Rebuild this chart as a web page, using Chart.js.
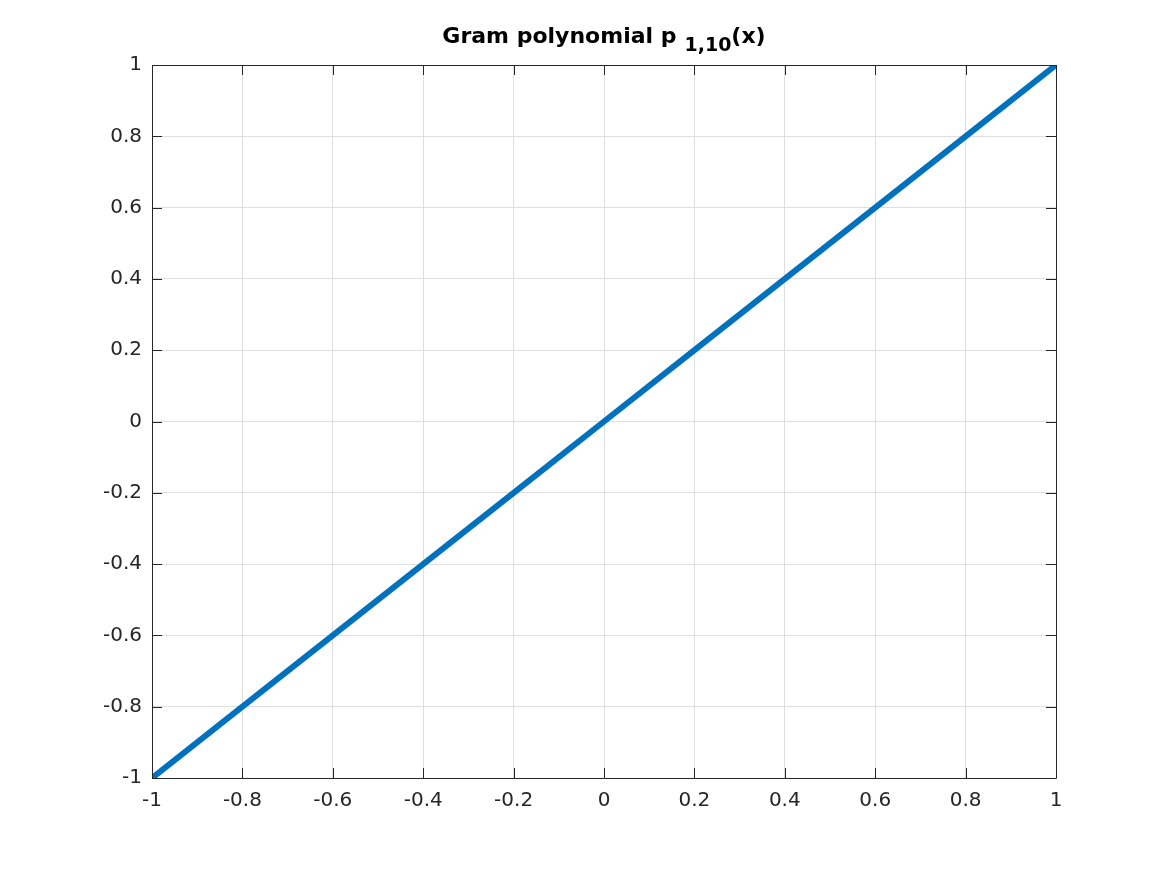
<!DOCTYPE html>
<html>
<head>
<meta charset="utf-8">
<script src="https://cdn.jsdelivr.net/npm/chart.js@4"></script>
<style>
  html, body { margin: 0; padding: 0; background: #fff; }
  #wrap { width: 1167px; height: 875px; }
</style>
</head>
<body>
<div id="wrap"><canvas id="c" width="1167" height="875"></canvas></div>
<script>
// Puntos de la curva (x en [-1, 1], 11 nodos) y su valor p_{1,10}(x)
const xValues = [-1, -0.8, -0.6, -0.4, -0.2, 0, 0.2, 0.4, 0.6, 0.8, 1];
const yValues = [-1, -0.8, -0.6, -0.4, -0.2, 0, 0.2, 0.4, 0.6, 0.8, 1];
const tickValues = [-1, -0.8, -0.6, -0.4, -0.2, 0, 0.2, 0.4, 0.6, 0.8, 1];

const FONT = "'DejaVu Sans', sans-serif";
const axisColor = '#262626';

// Caja y ticks hacia dentro, al estilo MATLAB
const boxPlugin = {
  id: 'box',
  afterDraw(chart) {
    const { ctx, chartArea: a, scales: { x, y } } = chart;
    ctx.save();
    ctx.strokeStyle = axisColor;
    ctx.lineWidth = 1;
    ctx.beginPath();
    ctx.rect(a.left + 0.5, a.top + 0.5, a.right - a.left, a.bottom - a.top);
    const len = 10;
    tickValues.forEach((v) => {
      const px = Math.round(x.getPixelForValue(v)) + 0.5;
      ctx.moveTo(px, a.bottom); ctx.lineTo(px, a.bottom - len);
      ctx.moveTo(px, a.top); ctx.lineTo(px, a.top + len);
      const py = Math.round(y.getPixelForValue(v)) + 0.5;
      ctx.moveTo(a.left, py); ctx.lineTo(a.left + len, py);
      ctx.moveTo(a.right, py); ctx.lineTo(a.right - len, py);
    });
    ctx.stroke();

    // Título con subíndice
    const cx = (a.left + a.right) / 2;
    const base = 43;
    ctx.fillStyle = '#000';
    ctx.textBaseline = 'alphabetic';
    const mainFont = `bold 22px ${FONT}`;
    const subFont = `bold 19px ${FONT}`;
    const parts = [
      { t: 'Gram polynomial p', f: mainFont, dy: 0, gap: 8 },
      { t: '1,10', f: subFont, dy: 8, gap: 0 },
      { t: '(x)', f: mainFont, dy: 0, gap: 0 },
    ];
    let total = 0;
    parts.forEach((p) => { ctx.font = p.f; p.w = ctx.measureText(p.t).width; total += p.w + p.gap; });
    let xPos = cx - total / 2;
    parts.forEach((p) => {
      ctx.font = p.f;
      ctx.fillText(p.t, xPos, base + p.dy);
      xPos += p.w + p.gap;
    });
    ctx.restore();
  },
};

new Chart(document.getElementById('c'), {
  type: 'line',
  data: {
    datasets: [{
      data: xValues.map((v, i) => ({ x: v, y: yValues[i] })),
      borderColor: '#0072bd',
      borderWidth: 6,
      pointRadius: 0,
      tension: 0,
      fill: false,
    }],
  },
  options: {
    responsive: false,
    animation: false,
    layout: { padding: { left: 0, top: 65, right: 111, bottom: 0 } },
    plugins: { legend: { display: false }, title: { display: false }, tooltip: { enabled: false } },
    scales: {
      x: {
        type: 'linear',
        min: -1,
        max: 1,
        afterFit: (s) => { s.height = 97; },
        afterBuildTicks: (s) => { s.ticks = tickValues.map((v) => ({ value: v })); },
        border: { display: false },
        grid: { color: '#dfdfdf', drawTicks: false },
        ticks: {
          color: axisColor,
          font: { family: FONT, size: 20 },
          padding: 11,
          maxRotation: 0,
          callback: (v) => String(Math.round(v * 10) / 10),
        },
      },
      y: {
        type: 'linear',
        min: -1,
        max: 1,
        afterFit: (s) => { s.width = 152; },
        afterBuildTicks: (s) => { s.ticks = tickValues.map((v) => ({ value: v })); },
        border: { display: false },
        grid: { color: '#dfdfdf', drawTicks: false },
        ticks: {
          color: axisColor,
          font: { family: FONT, size: 20 },
          padding: 10,
          callback: (v) => String(Math.round(v * 10) / 10),
        },
      },
    },
  },
  plugins: [boxPlugin],
});
</script>
</body>
</html>
